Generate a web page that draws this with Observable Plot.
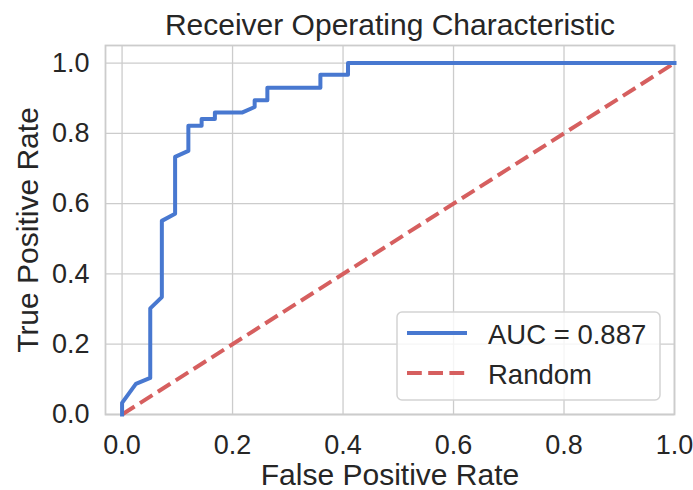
<!DOCTYPE html>
<html><head><meta charset="utf-8">
<script src="https://cdn.jsdelivr.net/npm/d3@7"></script>
<script src="https://cdn.jsdelivr.net/npm/@observablehq/plot@0.6"></script>
<style>
body{margin:0;background:#fff;font-family:"Liberation Sans",Arial,sans-serif;color:#262626;}
#wrap{position:relative;width:693px;height:490px;overflow:hidden;}
#legend{position:absolute;left:396px;top:311px;}
</style></head><body><div id="wrap"></div>
<script>
// ROC curve (false positive rate / true positive rate)
const fpr = [0, 0, 0.025, 0.051, 0.051, 0.072, 0.072, 0.096, 0.096, 0.12, 0.12, 0.144, 0.144, 0.168, 0.168, 0.217, 0.24, 0.24, 0.263, 0.263, 0.359, 0.359, 0.409, 0.409, 1.0];
const tpr = [0, 0.033, 0.087, 0.104, 0.302, 0.334, 0.551, 0.571, 0.733, 0.75, 0.822, 0.822, 0.841, 0.841, 0.859, 0.859, 0.875, 0.894, 0.894, 0.93, 0.93, 0.967, 0.967, 1.0, 1.0];
// Random classifier diagonal
const randomX = [0, 1];
const randomY = [0, 1];
const xTicks = [0, 0.2, 0.4, 0.6, 0.8, 1.0];
const yTicks = [0, 0.2, 0.4, 0.6, 0.8, 1.0];
const aucLabel = "AUC = 0.887";
const randomLabel = "Random";
const titleText = "Receiver Operating Characteristic";
const xLabel = "False Positive Rate";
const yLabel = "True Positive Rate";

const blue = "#4878d0", red = "#d65f5f", ink = "#262626";
const dash = "14.8,6.4";
const roc = fpr.map((x, i) => ({x, y: tpr[i]}));
const diag = randomX.map((x, i) => ({x, y: randomY[i]}));

const chart = Plot.plot({
  width: 693, height: 490,
  marginLeft: 105, marginRight: 19, marginTop: 45, marginBottom: 76,
  style: {fontFamily: '"Liberation Sans", Arial, sans-serif', color: ink, background: "#fff"},
  x: {domain: [-0.03, 1.0], label: null},
  y: {domain: [0, 1.05], label: null},
  marks: [
    Plot.gridX(xTicks, {stroke: "#cccccc", strokeOpacity: 1, strokeWidth: 1.3}),
    Plot.gridY(yTicks, {stroke: "#cccccc", strokeOpacity: 1, strokeWidth: 1.3}),
    Plot.frame({stroke: "#cccccc", strokeWidth: 1.8}),
    Plot.line(diag, {x: "x", y: "y", stroke: red, strokeWidth: 4, strokeDasharray: dash, strokeLinecap: "butt"}),
    Plot.line(roc, {x: "x", y: "y", stroke: blue, strokeWidth: 4, strokeLinecap: "square", strokeLinejoin: "round"}),
    Plot.axisX(xTicks, {tickSize: 0, tickPadding: 20, fontSize: 27, fill: ink, tickFormat: d3.format(".1f"), label: null}),
    Plot.axisY(yTicks, {tickSize: 0, tickPadding: 16, fontSize: 27, fill: ink, tickFormat: d3.format(".1f"), label: null}),
    Plot.text([xLabel], {frameAnchor: "bottom", textAnchor: "middle", lineAnchor: "middle", dy: 61, fontSize: 30, fill: ink}),
    Plot.text([yLabel], {frameAnchor: "left", textAnchor: "middle", lineAnchor: "middle", rotate: -90, dx: -77, fontSize: 30, fill: ink}),
    Plot.text([titleText], {frameAnchor: "top", textAnchor: "middle", lineAnchor: "middle", dy: -20, fontSize: 30, fill: ink})
  ]
});
const wrap = document.getElementById("wrap");
wrap.appendChild(chart);

// Legend (inside the plot, lower right)
const leg = d3.create("svg").attr("id", "legend").attr("width", 267).attr("height", 92);
leg.append("rect").attr("x", 1).attr("y", 1).attr("width", 263).attr("height", 88).attr("rx", 5)
  .attr("fill", "#fff").attr("fill-opacity", 0.8).attr("stroke", "#d3d3d3").attr("stroke-width", 1.5);
const items = [
  {label: aucLabel, color: blue, dash: null},
  {label: randomLabel, color: red, dash: dash}
];
items.forEach((it, i) => {
  const cy = 22 + i * 40;
  const l = leg.append("line").attr("x1", 11).attr("x2", 71).attr("y1", cy).attr("y2", cy)
    .attr("stroke", it.color).attr("stroke-width", 4);
  if (it.dash) l.attr("stroke-dasharray", it.dash); else l.attr("stroke-linecap", "butt");
  leg.append("text").attr("x", 92).attr("y", cy + 11).attr("font-size", 27.5)
    .attr("font-family", '"Liberation Sans", Arial, sans-serif').attr("fill", ink).text(it.label);
});
wrap.appendChild(leg.node());
</script></body></html>
